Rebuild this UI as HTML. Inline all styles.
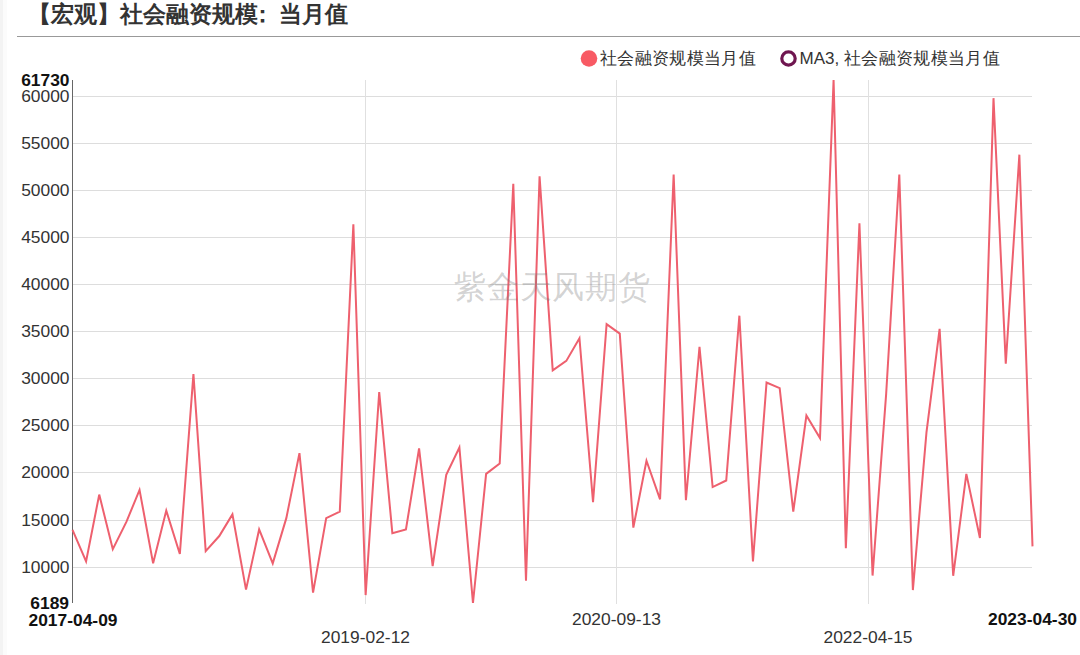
<!DOCTYPE html>
<html><head><meta charset="utf-8"><style>
html,body{margin:0;padding:0;background:#fff;width:1080px;height:655px;overflow:hidden}
svg{position:absolute;left:0;top:0}
.t{font-family:"Liberation Sans",sans-serif;font-size:17.4px;fill:#333}
.b{font-weight:bold;fill:#111}
</style></head><body>
<svg width="1080" height="655" viewBox="0 0 1080 655">
<rect x="0" y="0" width="3" height="655" fill="#f3f3f3"/>
<rect x="3" y="0" width="4" height="655" fill="#fbfbfb"/>
<text x="28" y="22" style="font-family:'Liberation Serif',serif;font-weight:bold;font-size:23px;fill:#333">【宏观】社会融资规模<tspan x="251">：</tspan><tspan x="278.5">当月值</tspan></text>
<rect x="17" y="36" width="1063" height="1" fill="#999"/>
<g class="t" style="font-size:17px">
<circle cx="589" cy="58.5" r="8.3" fill="#f85a64"/>
<text x="600" y="64" style="letter-spacing:0.35px">社会融资规模当月值</text>
<circle cx="788.5" cy="58.5" r="6.7" fill="none" stroke="#6f1650" stroke-width="3.2"/>
<text x="799.5" y="64">MA3,<tspan x="844" style="letter-spacing:0.35px">社会融资规模当月值</tspan></text>
</g>
<rect x="73" y="567" width="959" height="1" fill="#dddddd"/>
<rect x="73" y="520" width="959" height="1" fill="#dddddd"/>
<rect x="73" y="472" width="959" height="1" fill="#dddddd"/>
<rect x="73" y="425" width="959" height="1" fill="#dddddd"/>
<rect x="73" y="378" width="959" height="1" fill="#dddddd"/>
<rect x="73" y="331" width="959" height="1" fill="#dddddd"/>
<rect x="73" y="284" width="959" height="1" fill="#dddddd"/>
<rect x="73" y="237" width="959" height="1" fill="#dddddd"/>
<rect x="73" y="190" width="959" height="1" fill="#dddddd"/>
<rect x="73" y="143" width="959" height="1" fill="#dddddd"/>
<rect x="73" y="96" width="959" height="1" fill="#dddddd"/>
<rect x="365" y="80" width="1" height="524" fill="#e0e0e0"/>
<rect x="616" y="80" width="1" height="524" fill="#e0e0e0"/>
<rect x="868" y="80" width="1" height="524" fill="#e0e0e0"/>

<rect x="72" y="80" width="1" height="523" fill="#666"/>
<polyline points="72.50,529.95 86.08,561.46 99.23,494.61 112.81,549.22 126.39,521.91 139.54,489.90 153.12,563.35 166.27,510.62 179.85,553.93 193.43,374.08 205.70,551.11 219.28,536.04 232.43,514.38 246.01,589.64 259.15,529.45 272.74,563.35 286.32,518.15 299.46,453.17 313.05,592.65 326.19,518.15 339.78,511.56 353.36,224.35 365.63,595.08 379.21,391.97 392.35,533.21 405.94,529.45 419.08,448.47 432.66,566.17 446.25,474.83 459.39,447.52 472.97,603.00 486.12,473.89 499.70,463.53 513.29,183.86 525.99,580.73 539.57,176.33 552.72,370.31 566.30,360.89 579.45,338.29 593.03,502.14 606.61,324.17 619.76,333.59 633.34,527.56 646.48,460.71 660.07,499.32 673.65,174.45 685.92,500.26 699.50,346.77 712.65,487.07 726.23,480.48 739.37,315.69 752.96,561.46 766.54,382.55 779.68,388.20 793.27,511.56 806.41,415.51 819.99,438.11 833.58,80.00 845.85,548.28 859.43,223.41 872.57,575.57 886.16,393.85 899.30,174.45 912.88,590.08 926.47,432.46 939.61,328.88 953.19,575.79 966.34,473.89 979.92,537.92 993.50,98.17 1005.77,363.72 1019.36,154.67 1032.50,546.40" fill="none" stroke="#ee606e" stroke-width="2" stroke-linejoin="miter"/>
<text x="454" y="298" style="font-family:'Liberation Sans',sans-serif;font-size:32px;letter-spacing:0.8px;fill:rgba(120,120,120,0.32)">紫金天风期货</text>
<g class="t">
<text x="69.5" y="572.61" text-anchor="end">10000</text>
<text x="69.5" y="525.53" text-anchor="end">15000</text>
<text x="69.5" y="478.45" text-anchor="end">20000</text>
<text x="69.5" y="431.37" text-anchor="end">25000</text>
<text x="69.5" y="384.28" text-anchor="end">30000</text>
<text x="69.5" y="337.20" text-anchor="end">35000</text>
<text x="69.5" y="290.12" text-anchor="end">40000</text>
<text x="69.5" y="243.04" text-anchor="end">45000</text>
<text x="69.5" y="195.96" text-anchor="end">50000</text>
<text x="69.5" y="148.87" text-anchor="end">55000</text>
<text x="69.5" y="101.79" text-anchor="end">60000</text>

<text class="b" x="69.5" y="85.5" text-anchor="end">61730</text>
<text class="b" x="69" y="609" text-anchor="end">6189</text>
<text class="b" x="73" y="625.5" text-anchor="middle">2017-04-09</text>
<text x="365.5" y="642.5" text-anchor="middle">2019-02-12</text>
<text x="616.5" y="625" text-anchor="middle">2020-09-13</text>
<text x="868" y="642.5" text-anchor="middle">2022-04-15</text>
<text class="b" x="1032.5" y="625" text-anchor="middle">2023-04-30</text>
</g>
</svg>
</body></html>
